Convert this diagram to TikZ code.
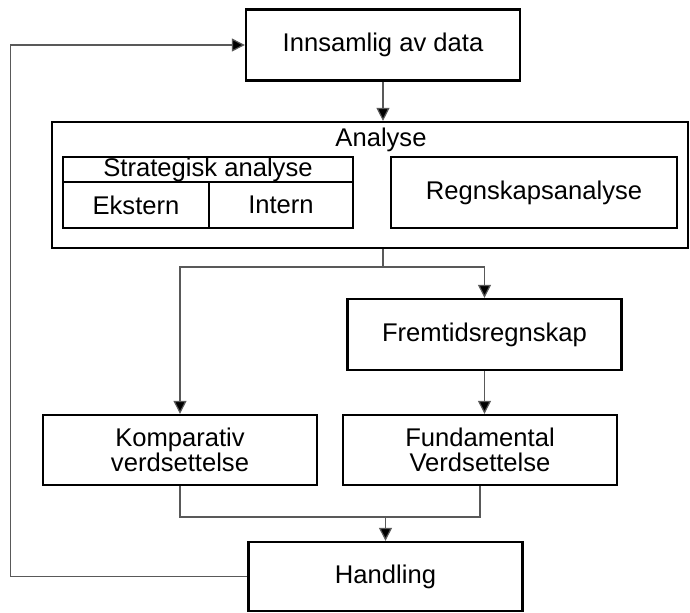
\documentclass[tikz,border=0pt]{standalone}
\usepackage{fontspec}
\setmainfont{Liberation Sans}
\usetikzlibrary{arrows.meta}
\begin{document}
\begin{tikzpicture}[x=0.5pt, y=-0.5pt,
    box/.style={draw, line width=1.2pt, minimum width=137pt, minimum height=35.5pt, inner sep=0pt, align=center, font=\fontsize{12.8}{12.6}\selectfont},
    cell/.style={draw, line width=1.1pt, inner sep=0pt, align=center, font=\fontsize{12.8}{15.5}\selectfont},
    link/.style={draw=black!65, line width=0.6pt},
    arrow/.style={link, -{Triangle[length=6.5pt, width=6.5pt, fill=black]}}]
      \useasboundingbox (0,0) rectangle (690,612);

      \node[box] (innsamling) at (383, 45) {Innsamlig av data};
      \node[cell, minimum width=318pt, minimum height=63pt] (analyse) at (370, 185) {};
      \node[cell, draw=none] (analysetittel) at (381, 140) {Analyse};
      \node[cell, minimum width=145pt, minimum height=12.5pt, text height=9pt, text depth=2.5pt] (strategisk) at (208, 169.5) {Strategisk analyse};
      \node[cell, minimum width=73pt, minimum height=23pt] (ekstern) at (136, 205) {Ekstern};
      \node[cell, minimum width=72pt, minimum height=23pt] (intern) at (281, 205) {Intern};
      \node[cell, minimum width=143pt, minimum height=35.5pt] (regnskap) at (534, 192.5) {Regnskapsanalyse};
      \node[box] (fremtid) at (484.5, 334.5) {Fremtidsregnskap};
      \node[box, minimum height=35pt] (komparativ) at (180, 450) {Komparativ\\verdsettelse};
      \node[box, minimum height=35pt] (fundamental) at (480, 450) {Fundamental\\Verdsettelse};
      \node[box, minimum height=34.5pt] (handling) at (385.5, 576.5) {Handling};

      \coordinate (delt) at (383, 267);
      \coordinate (samlet) at (385.5, 517);

      \draw[arrow] (innsamling.south) -- (innsamling.south |- analyse.north);
      \draw[link] (innsamling.south |- analyse.south) -- (delt);
      \draw[arrow] (delt) -| (komparativ.north);
      \draw[arrow] (delt) -| (fremtid.north);
      \draw[arrow] (fremtid.south) -- (fremtid.south |- fundamental.north);
      \draw[link] (komparativ.south) |- (samlet) -| (fundamental.south);
      \draw[arrow] (samlet) -- (handling.north);
      \draw[arrow] (handling.west) -- ++(-237, 0) |- (innsamling.west);
    \end{tikzpicture}
\end{document}
